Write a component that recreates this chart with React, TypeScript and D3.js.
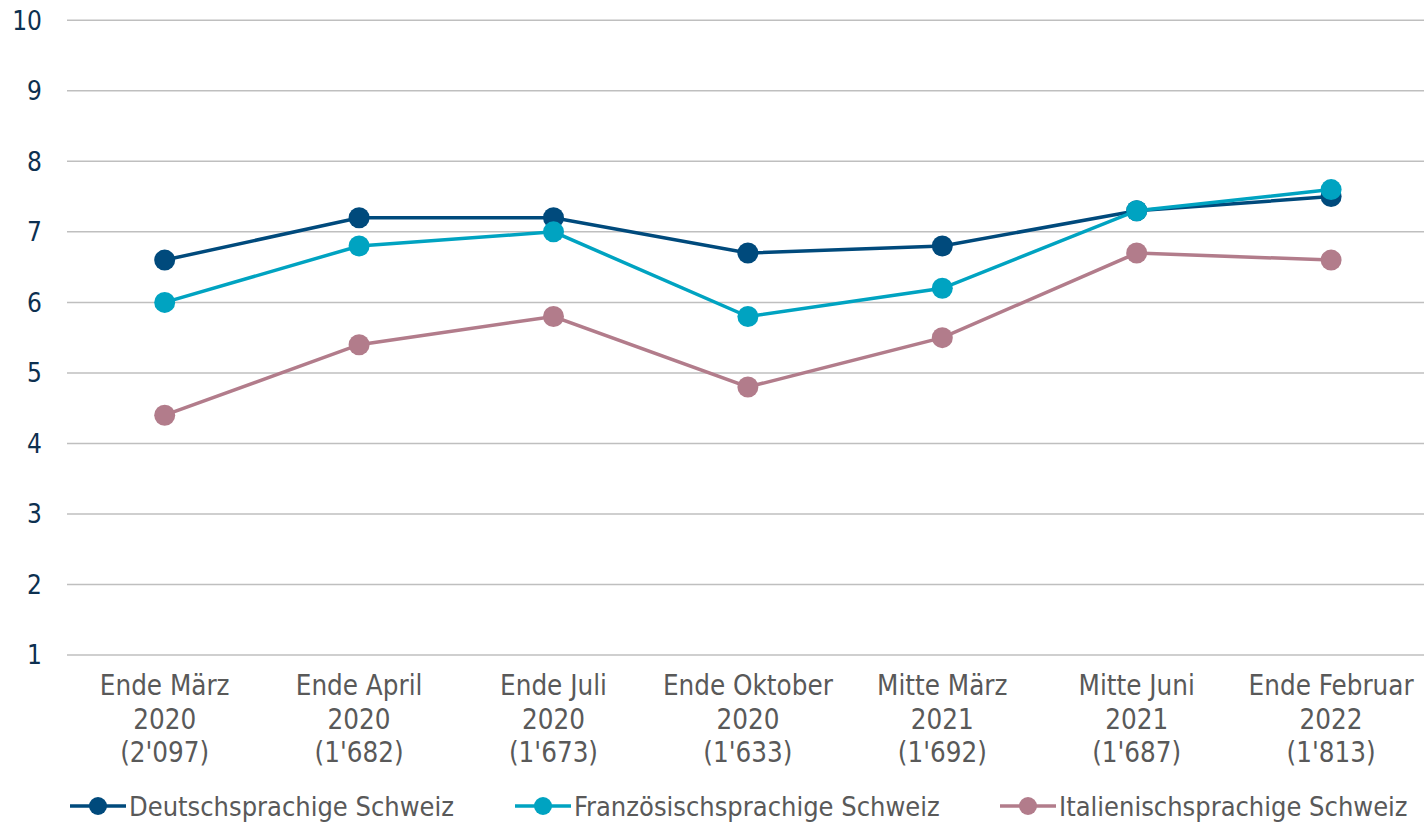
import React from "react";
import * as d3 from "d3";

const categories = [
  ["Ende März", "2020", "(2'097)"],
  ["Ende April", "2020", "(1'682)"],
  ["Ende Juli", "2020", "(1'673)"],
  ["Ende Oktober", "2020", "(1'633)"],
  ["Mitte März", "2021", "(1'692)"],
  ["Mitte Juni", "2021", "(1'687)"],
  ["Ende Februar", "2022", "(1'813)"],
];

const deutsch = [6.6, 7.2, 7.2, 6.7, 6.8, 7.3, 7.5];
const franz = [6.0, 6.8, 7.0, 5.8, 6.2, 7.3, 7.6];
const ital = [4.4, 5.4, 5.8, 4.8, 5.5, 6.7, 6.6];

const yTicks = [1, 2, 3, 4, 5, 6, 7, 8, 9, 10];

const series = [
  { name: "Deutschsprachige Schweiz", values: deutsch, color: "#004a7c" },
  { name: "Französischsprachige Schweiz", values: franz, color: "#00a3c1" },
  { name: "Italienischsprachige Schweiz", values: ital, color: "#b27c8b" },
];

const W = 1424;
const H = 822;
const FONT = "'DejaVu Sans Condensed', 'DejaVu Sans', sans-serif";

export default function App() {
  const left = 67.5;
  const step = 194.4;
  const x = d3
    .scalePoint<number>()
    .domain(d3.range(categories.length))
    .range([left, left + step * categories.length])
    .padding(0.5);
  const y = d3.scaleLinear().domain([1, 10]).range([655, 20.3]);

  const line = d3
    .line<number>()
    .x((d, i) => x(i) as number)
    .y((d) => y(d));

  const legendX = [70, 515, 1000];

  return (
    <svg
      width={W}
      height={H}
      style={{ position: "absolute", left: 0, top: 0, background: "#fff" }}
      fontFamily={FONT}
    >
      {yTicks.map((t) => (
        <g key={t}>
          <line x1={67} x2={W} y1={y(t)} y2={y(t)} stroke="#bfbfbf" strokeWidth={1.5} />
          <text x={42} y={y(t)} dy="0.36em" textAnchor="end" fontSize={26} fill="#0d3050">
            {t}
          </text>
        </g>
      ))}

      {categories.map((c, i) => (
        <text key={i} x={x(i)} textAnchor="middle" fontSize={27.5} fill="#595959">
          {c.map((s, j) => (
            <tspan key={j} x={x(i)} y={695 + j * 33.5}>
              {s}
            </tspan>
          ))}
        </text>
      ))}

      {series.map((s) => (
        <g key={s.name}>
          <path d={line(s.values) || ""} fill="none" stroke={s.color} strokeWidth={3.5} />
          {s.values.map((v, i) => (
            <circle key={i} cx={x(i)} cy={y(v)} r={10.5} fill={s.color} />
          ))}
        </g>
      ))}

      {series.map((s, i) => (
        <g key={s.name} transform={`translate(${legendX[i]},806)`}>
          <line x1={0} x2={56} y1={0} y2={0} stroke={s.color} strokeWidth={3.5} />
          <circle cx={28} cy={0} r={9} fill={s.color} />
          <text x={59} y={0} dy="0.36em" fontSize={27} fill="#595959">
            {s.name}
          </text>
        </g>
      ))}
    </svg>
  );
}
